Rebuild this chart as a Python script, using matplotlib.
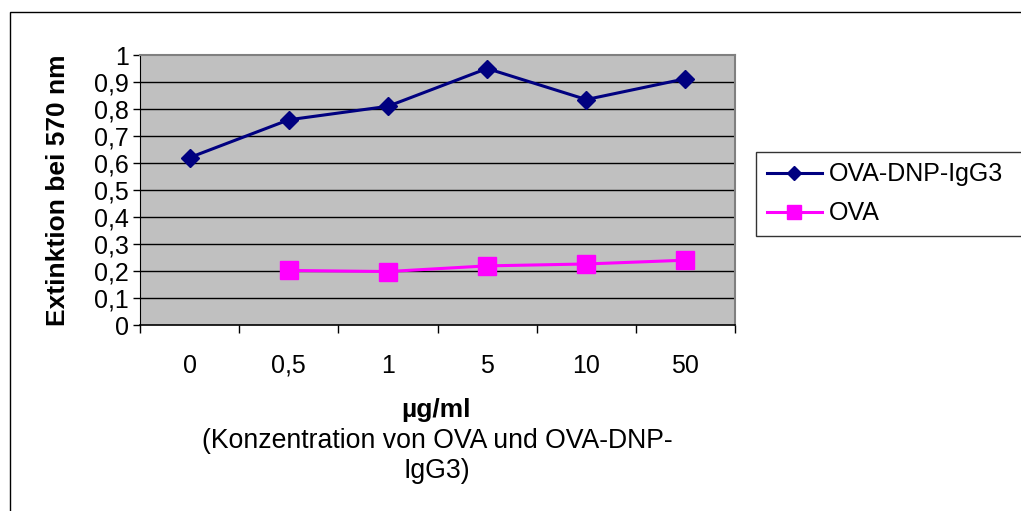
import matplotlib
matplotlib.use("Agg")
import matplotlib.pyplot as plt
from matplotlib.patches import Rectangle
import numpy as np

plt.rcParams['font.family'] = ['Liberation Sans', 'DejaVu Sans']

categories = ["0", "0,5", "1", "5", "10", "50"]
ova_dnp_igg3 = [0.62, 0.76, 0.81, 0.95, 0.835, 0.912]
ova = [np.nan, 0.202, 0.198, 0.219, 0.226, 0.24]
y_ticks = [0, 0.1, 0.2, 0.3, 0.4, 0.5, 0.6, 0.7, 0.8, 0.9, 1.0]
y_tick_labels = ["0", "0,1", "0,2", "0,3", "0,4", "0,5", "0,6", "0,7", "0,8", "0,9", "1"]

W, H = 1021, 511
fig = plt.figure(figsize=(W / 100, H / 100), dpi=100)
fig.patch.set_facecolor("white")

# outer chart frame (runs off the right and bottom edges)
fig.add_artist(Rectangle((10 / W, -0.05), 1.1, 1 - 12 / H + 0.05,
                         transform=fig.transFigure, fill=False,
                         edgecolor="black", linewidth=1.0))

ax = fig.add_axes([140 / W, 1 - 325 / H, 595 / W, 270 / H])
ax.set_facecolor("#C0C0C0")
x = np.arange(len(categories))

ax.set_xlim(-0.5, len(categories) - 0.5)
ax.set_ylim(0, 1)

for v in y_ticks[1:-1]:
    ax.axhline(v, color="black", linewidth=1.0, zorder=1)

ax.plot(x, ova_dnp_igg3, color="#000080", linewidth=2.2, marker="D",
        markersize=9.5, markerfacecolor="#000080", markeredgecolor="#000080",
        label="OVA-DNP-IgG3", zorder=3)
ax.plot(x, ova, color="#FF00FF", linewidth=2.2, marker="s",
        markersize=12.5, markerfacecolor="#FF00FF", markeredgecolor="#FF00FF",
        label="OVA", zorder=3)

for side in ["top", "right"]:
    ax.spines[side].set_color("#808080")
    ax.spines[side].set_linewidth(1.5)
ax.spines["left"].set_color("black")
ax.spines["bottom"].set_color("black")
ax.spines["bottom"].set_linewidth(1.2)

ax.set_yticks(y_ticks)
ax.set_yticklabels(y_tick_labels, fontsize=18)
ax.tick_params(axis="y", direction="out", length=5, width=1, pad=3)

# category ticks on boundaries, labels centred in each category
ax.set_xticks(np.arange(len(categories) + 1) - 0.5)
ax.set_xticklabels([])
ax.set_xticks(x, minor=True)
ax.set_xticklabels(categories, minor=True, fontsize=18)
ax.tick_params(axis="x", which="major", direction="out", length=6, width=1)
ax.tick_params(axis="x", which="minor", length=0, pad=34.5)
for lbl in ax.get_xticklabels(minor=True):
    lbl.set_verticalalignment("baseline")

ax.set_ylabel("Extinktion bei 570 nm", fontsize=19, fontweight="bold")
ax.yaxis.set_label_coords((70 - 140) / 595, 0.5)

fig.text(436 / W, 1 - 410 / H, "µg/ml", fontsize=19, fontweight="bold",
         ha="center", va="center")
fig.text(437 / W, 1 - 456 / H, "(Konzentration von OVA und OVA-DNP-\nIgG3)",
         fontsize=19.2, ha="center", va="center", linespacing=1.15)

# legend box continues past the right edge of the canvas
leg = fig.legend(loc="upper left",
                 bbox_to_anchor=(756 / W, 1 - 230 / H, 300 / W, 78 / H),
                 mode="expand", fontsize=18, frameon=True, fancybox=False,
                 borderpad=0.42, handlelength=2.2, handletextpad=0.28,
                 labelspacing=0.6, borderaxespad=0, markerscale=0.75)
leg.get_frame().set_edgecolor("black")
leg.get_frame().set_linewidth(1.0)

fig.savefig("out.png", dpi=100)
